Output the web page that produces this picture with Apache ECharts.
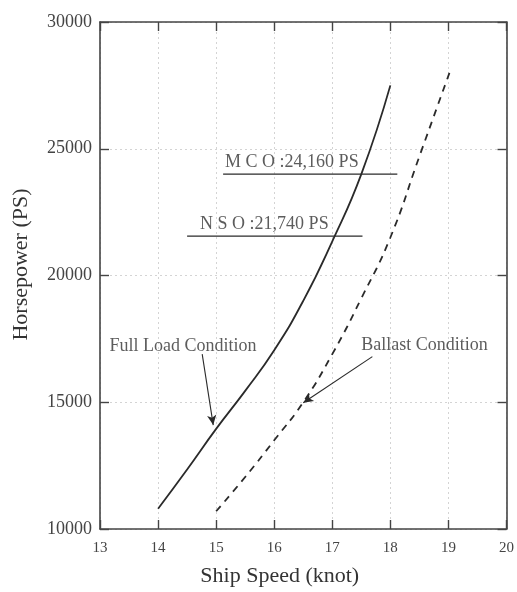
<!DOCTYPE html>
<html>
<head>
<meta charset="utf-8">
<script src="https://cdn.jsdelivr.net/npm/echarts@6/dist/echarts.min.js"></script>
<style>
  html, body { margin: 0; padding: 0; background: #fff; }
  #main { width: 517px; height: 592px; }
</style>
</head>
<body>
<div id="main"></div>
<script>
// curve data (speed in knot, power in PS)
var fullLoadSpeed = [14.0, 14.5, 15.0, 15.5, 16.0, 16.5, 17.0, 17.5, 18.0];
var fullLoadPower = [10800, 12350, 13950, 15450, 17050, 19000, 21350, 24000, 27500];

var ballastSpeed = [15.0, 15.5, 16.0, 16.5, 17.0, 17.5, 18.0, 18.5, 19.05];
var ballastPower = [10700, 12050, 13500, 15000, 16900, 19100, 21500, 24700, 28200];

// MCO / NSO reference lines
var mcoLine = [[15.12, 24000], [18.12, 24000]];
var nsoLine = [[14.5, 21550], [17.52, 21550]];
var mcoText = 'M C O :24,160 PS';
var nsoText = 'N S O :21,740 PS';

// annotations: text centre, arrow start, arrow tip
var fullLoadNote = { text: 'Full Load Condition', at: [14.43, 17200], from: [14.76, 16900], to: [14.95, 14100] };
var ballastNote = { text: 'Ballast Condition', at: [18.59, 17250], from: [17.69, 16800], to: [16.5, 14980] };

var serif = '"Liberation Serif", "DejaVu Serif", serif';
var ink = '#2a2a2a';

function pairs(xs, ys) {
    var out = [];
    for (var i = 0; i < xs.length; i++) {
        out.push([xs[i], ys[i]]);
    }
    return out;
}

var axisBase = {
    type: 'value',
    axisLine: { show: true, onZero: false, lineStyle: { color: '#444', width: 1.6 } },
    axisTick: { show: true, inside: true, length: 9, lineStyle: { color: '#444', width: 1.4 } }
};

var option = {
    backgroundColor: '#fff',
    animation: false,
    grid: { left: 100, right: 9, top: 22, bottom: 61 },
    xAxis: [
        Object.assign({}, axisBase, {
            min: 13, max: 20, interval: 1,
            position: 'bottom',
            name: 'Ship Speed (knot)',
            nameLocation: 'middle',
            nameGap: 36,
            nameTextStyle: { fontFamily: serif, fontSize: 22, color: '#333', padding: [0, 47, 0, 0] },
            axisLabel: { fontFamily: serif, fontSize: 15, color: '#444', margin: 12 },
            splitLine: { show: true, lineStyle: { color: '#d4d4d4', type: [2, 3], width: 1 } }
        }),
        Object.assign({}, axisBase, {
            min: 13, max: 20, interval: 1,
            position: 'top',
            axisLabel: { show: false },
            splitLine: { show: false }
        })
    ],
    yAxis: [
        Object.assign({}, axisBase, {
            min: 10000, max: 30000, interval: 5000,
            position: 'left',
            name: 'Horsepower (PS)',
            nameLocation: 'middle',
            nameGap: 68,
            nameTextStyle: { fontFamily: serif, fontSize: 22, color: '#333', padding: [0, 0, 0, 22] },
            axisLabel: {
                fontFamily: serif, fontSize: 18, color: '#444', margin: 8,
                formatter: function (v) { return String(v); }
            },
            splitLine: { show: true, lineStyle: { color: '#d4d4d4', type: [2, 3], width: 1 } }
        }),
        Object.assign({}, axisBase, {
            min: 10000, max: 30000, interval: 5000,
            position: 'right',
            axisLabel: { show: false },
            splitLine: { show: false }
        })
    ],
    series: [
        {
            name: 'Full Load Condition',
            type: 'line',
            smooth: true,
            symbol: 'none',
            lineStyle: { color: ink, width: 1.8 },
            data: pairs(fullLoadSpeed, fullLoadPower),
            markLine: {
                silent: true,
                symbol: ['none', 'arrow'],
                symbolSize: [7, 10],
                lineStyle: { color: ink, width: 1.1, type: 'solid' },
                label: { show: false },
                data: [
                    [{ coord: fullLoadNote.from }, { coord: fullLoadNote.to }],
                    [{ coord: ballastNote.from }, { coord: ballastNote.to }]
                ]
            }
        },
        {
            name: 'Ballast Condition',
            type: 'line',
            smooth: true,
            symbol: 'none',
            lineStyle: { color: ink, width: 1.8, type: [7, 6] },
            data: pairs(ballastSpeed, ballastPower)
        },
        {
            name: 'MCO',
            type: 'line',
            symbol: 'none',
            lineStyle: { color: ink, width: 1.2 },
            data: mcoLine
        },
        {
            name: 'NSO',
            type: 'line',
            symbol: 'none',
            lineStyle: { color: ink, width: 1.2 },
            data: nsoLine
        },
        {
            name: 'notes',
            type: 'scatter',
            symbolSize: 0,
            silent: true,
            label: {
                show: true,
                fontFamily: serif,
                fontSize: 18,
                color: '#333',
                formatter: function (p) { return p.data.text; }
            },
            data: [
                { value: fullLoadNote.at, text: fullLoadNote.text, label: { position: 'inside' } },
                { value: ballastNote.at, text: ballastNote.text, label: { position: 'inside' } },
                { value: mcoLine[0], text: mcoText, label: { position: 'right', distance: 0, offset: [2, -12] } },
                { value: nsoLine[0], text: nsoText, label: { position: 'right', distance: 0, offset: [13, -12] } }
            ]
        }
    ]
};

var myChart = echarts.init(document.getElementById('main'));
myChart.setOption(option);

window.addEventListener('resize', function () {
    myChart.resize();
});
</script>
</body>
</html>
